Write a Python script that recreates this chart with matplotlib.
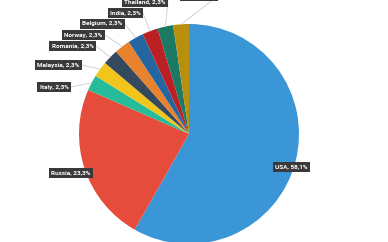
import numpy as np
import matplotlib
matplotlib.use("Agg")
import matplotlib.pyplot as plt

# data
countries = ['USA', 'Russia', 'Italy', 'Malaysia', 'Romania', 'Norway',
             'Belgium', 'India', 'Thailand', 'China']
shares = [58.1, 23.3, 2.3, 2.3, 2.3, 2.3, 2.3, 2.3, 2.3, 2.3]
colors = ['#3a96d6', '#e64c3c', '#26bc9a', '#f1c51c', '#34495e', '#e8822c',
          '#2366a2', '#bb2025', '#1c7a62', '#b8900e']

W, H = 388, 242
cx, cy, R = 189, H - 134, 110

# label box anchor (right edge x, centre y), image pixels
label_pos = {
    'USA': (310, 167), 'Russia': (93, 173), 'Italy': (71, 87),
    'Malaysia': (82, 65), 'Romania': (96, 46), 'Norway': (105, 35),
    'Belgium': (125, 24), 'India': (143, 13), 'Thailand': (168, 2),
    'China': (218, -4),
}
inside = {'USA', 'Russia'}

fig = plt.figure(figsize=(W / 100, H / 100), dpi=100)
ax = fig.add_axes([0, 0, 1, 1])
ax.set_xlim(0, W)
ax.set_ylim(0, H)
ax.set_aspect('equal')
ax.axis('off')

wedges, _ = ax.pie(shares, colors=colors, startangle=90, counterclock=False,
                   radius=R, center=(cx, cy), frame=True,
                   wedgeprops=dict(linewidth=0))
ax.set_xlim(0, W)
ax.set_ylim(0, H)
ax.axis('off')

for w, name, val in zip(wedges, countries, shares):
    rx, ry = label_pos[name]
    ry = H - ry
    txt = f"{name}, {val:.1f}%".replace('.', ',')
    if name not in inside:
        mid = np.deg2rad((w.theta1 + w.theta2) / 2)
        ex, ey = cx + R * np.cos(mid), cy + R * np.sin(mid)
        ax.plot([rx, ex], [ry, ey], color='#cccccc', lw=0.6, zorder=1)
    ax.text(rx - 2.5, ry, txt, ha='right', va='center', color='white',
            fontsize=4.6, fontweight='bold',
            family=['Liberation Sans Narrow', 'Roboto', 'DejaVu Sans'],
            bbox=dict(boxstyle='square,pad=0.35', fc='#3a3a3a', ec='none'),
            zorder=5)

fig.savefig('out.png', dpi=100)
